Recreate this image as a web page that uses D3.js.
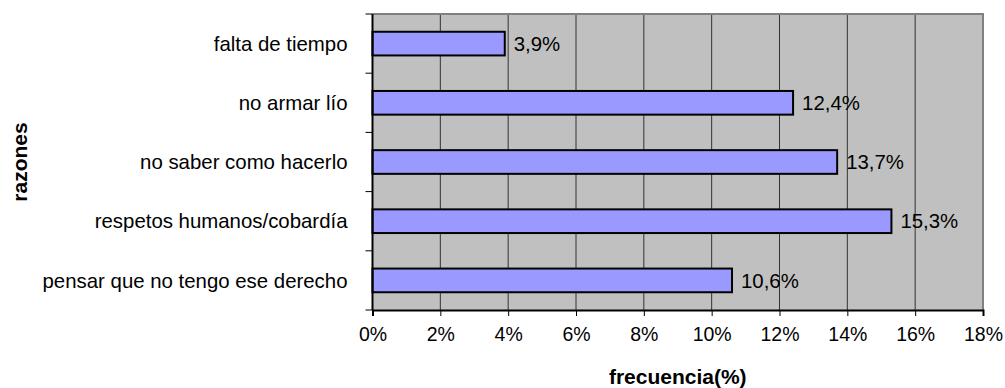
<!DOCTYPE html>
<html>
<head>
<meta charset="utf-8">
<script src="https://cdn.jsdelivr.net/npm/d3@7"></script>
<style>
  body { margin: 0; background: #fff; }
  text { font-family: Arial, "Liberation Sans", sans-serif; }
</style>
</head>
<body>
<div id="plot"></div>
<script>
// data
const razones = ["falta de tiempo", "no armar lío", "no saber como hacerlo",
    "respetos humanos/cobardía", "pensar que no tengo ese derecho"];
const frecuencia = [3.9, 12.4, 13.7, 15.3, 10.6];
const valueLabels = ["3,9%", "12,4%", "13,7%", "15,3%", "10,6%"];
const xTicks = [0, 2, 4, 6, 8, 10, 12, 14, 16, 18];

const W = 1005, H = 388;
const margin = {top: 14, right: 22, bottom: 78, left: 372.5};
const width = W - margin.left - margin.right,
    height = H - margin.top - margin.bottom;

const svg = d3.select("#plot").append("svg")
    .attr("width", W).attr("height", H);
const g = svg.append("g")
    .attr("transform", "translate(" + margin.left + "," + margin.top + ")");

const x = d3.scaleLinear().domain([0, 18]).range([0, width]);
const y = d3.scaleBand().domain(razones).range([0, height]).paddingInner(0.6).paddingOuter(0.3);
const yb = d3.scaleBand().domain(razones).range([0, height]);

// plot background
g.append("rect")
    .attr("width", width).attr("height", height)
    .attr("fill", "#c0c0c0");

// gridlines
g.selectAll(".grid").data(xTicks.slice(1, -1)).enter().append("line")
    .attr("x1", d => x(d)).attr("x2", d => x(d))
    .attr("y1", 0).attr("y2", height)
    .attr("stroke", "#333").attr("stroke-width", 1);

// top/right border
g.append("path")
    .attr("d", "M0,0H" + width + "V" + height)
    .attr("fill", "none").attr("stroke", "#808080").attr("stroke-width", 2);

// bars
g.selectAll(".bar").data(frecuencia).enter().append("rect")
    .attr("x", 0)
    .attr("y", (d, i) => y(razones[i]))
    .attr("width", d => x(d))
    .attr("height", y.bandwidth())
    .attr("fill", "#9999ff")
    .attr("stroke", "#000").attr("stroke-width", 2);

// value labels
g.selectAll(".val").data(frecuencia).enter().append("text")
    .attr("x", d => x(d) + 9)
    .attr("y", (d, i) => y(razones[i]) + y.bandwidth() / 2)
    .attr("dy", "0.35em")
    .attr("font-size", 20.4)
    .text((d, i) => valueLabels[i]);

// x axis
const xAxis = g.append("g")
    .attr("transform", "translate(0," + height + ")")
    .call(d3.axisBottom(x).tickValues(xTicks).tickFormat(d => d + "%").tickSize(6).tickPadding(11));
xAxis.select(".domain").attr("stroke", "#000").attr("stroke-width", 2);
xAxis.selectAll("text").attr("font-size", 19.5).attr("fill", "#000")
    .style("font-family", "Arial, 'Liberation Sans', sans-serif");

// y axis: ticks between categories
const yTickPos = [0].concat(razones.map(r => yb(r) + yb.bandwidth()));
g.append("line").attr("x1", 0).attr("x2", 0).attr("y1", 0).attr("y2", height)
    .attr("stroke", "#000").attr("stroke-width", 2);
g.selectAll(".ytick").data(yTickPos).enter().append("line")
    .attr("x1", -7).attr("x2", 0)
    .attr("y1", d => d).attr("y2", d => d)
    .attr("stroke", "#000").attr("stroke-width", 1);
g.selectAll(".ylab").data(razones).enter().append("text")
    .attr("x", -25)
    .attr("y", d => yb(d) + yb.bandwidth() / 2)
    .attr("dy", "0.35em")
    .attr("text-anchor", "end")
    .attr("font-size", 20.4)
    .text(d => d);

// axis titles
svg.append("text")
    .attr("x", margin.left + width / 2).attr("y", 384)
    .attr("text-anchor", "middle")
    .attr("font-size", 21).attr("font-weight", "bold")
    .text("frecuencia(%)");
svg.append("text")
    .attr("transform", "translate(27," + (margin.top + height / 2) + ") rotate(-90)")
    .attr("text-anchor", "middle")
    .attr("font-size", 21).attr("font-weight", "bold")
    .text("razones");
</script>
</body>
</html>
